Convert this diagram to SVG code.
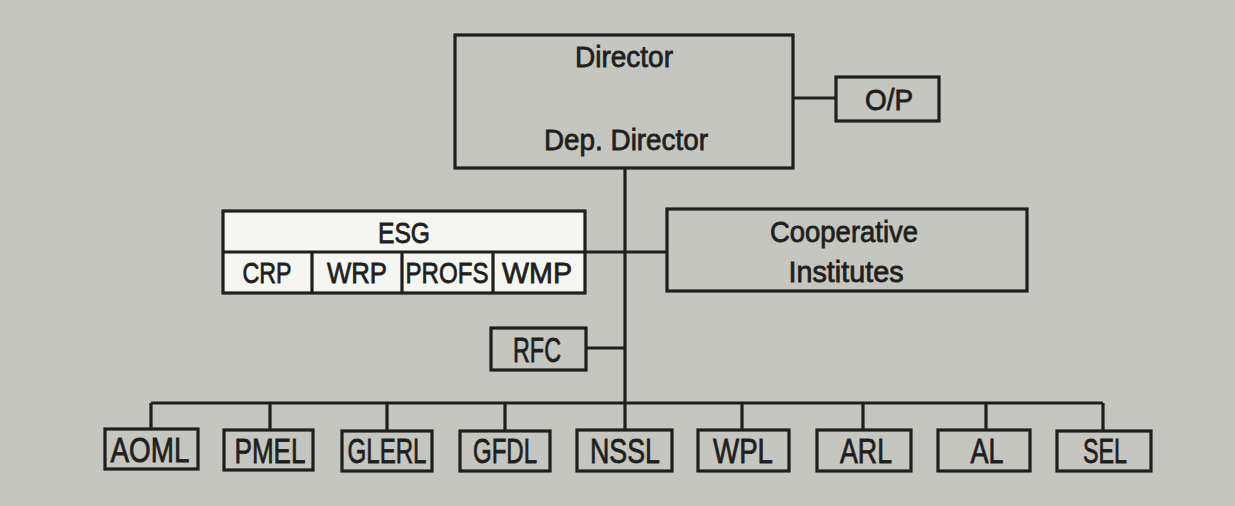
<svg xmlns="http://www.w3.org/2000/svg" width="1235" height="506" viewBox="0 0 1235 506">
<style>
.box{fill:none;stroke:#1f1f1f;stroke-width:3.2}
.wbox{fill:#f5f5f2;stroke:#1f1f1f;stroke-width:3.2}
.ln{fill:none;stroke:#1f1f1f;stroke-width:3.2}
text{font-family:"Liberation Sans",Arial,sans-serif;fill:#1f1f1f;stroke:#1f1f1f;stroke-width:0.8;text-anchor:middle}
.t1{font-size:30px}
.t2{font-size:35px}
</style>
<rect width="1235" height="506" fill="#c6c6c0"/>
<g id="connectors">
<path class="ln" d="M793 98H836"/>
<path class="ln" d="M625 168V430"/>
<path class="ln" d="M585 252H667"/>
<path class="ln" d="M586 348H625"/>
<path class="ln" d="M151 403H1103"/>
<path class="ln" d="M151 403V429M270 403V430M387 403V431M505 403V431M742 403V430M863 403V430M986 403V430M1103 403V431"/>
</g>
<g id="director">
<rect class="box" x="455" y="35" width="338" height="133"/>
<text class="t1" x="624" y="67" textLength="98" lengthAdjust="spacingAndGlyphs">Director</text>
<text class="t1" x="626" y="150" textLength="164" lengthAdjust="spacingAndGlyphs">Dep. Director</text>
</g>
<g id="op">
<rect class="box" x="836" y="77" width="103" height="44"/>
<text class="t1" x="889" y="110" textLength="48" lengthAdjust="spacingAndGlyphs">O/P</text>
</g>
<g id="esg">
<rect class="wbox" x="223" y="211" width="362" height="82"/>
<path class="ln" d="M223 252H585M312 252V293M402 252V293M493 252V293"/>
<text class="t1" x="404" y="243" textLength="52" lengthAdjust="spacingAndGlyphs">ESG</text>
<text class="t1" x="267" y="283" textLength="49" lengthAdjust="spacingAndGlyphs">CRP</text>
<text class="t1" x="357" y="283" textLength="60" lengthAdjust="spacingAndGlyphs">WRP</text>
<text class="t1" x="447" y="283" textLength="83" lengthAdjust="spacingAndGlyphs">PROFS</text>
<text class="t1" x="537" y="283" textLength="70" lengthAdjust="spacingAndGlyphs">WMP</text>
</g>
<g id="coop">
<rect class="box" x="667" y="209" width="360" height="82"/>
<text class="t1" x="844" y="242" textLength="148" lengthAdjust="spacingAndGlyphs">Cooperative</text>
<text class="t1" x="846" y="282" textLength="115" lengthAdjust="spacingAndGlyphs">Institutes</text>
</g>
<g id="rfc">
<rect class="box" x="491" y="328" width="95" height="42"/>
<text class="t2" x="537" y="362" textLength="48" lengthAdjust="spacingAndGlyphs">RFC</text>
</g>
<g id="aoml"><rect class="box" x="105" y="429" width="93" height="40"/><text class="t2" x="150" y="462" textLength="79" lengthAdjust="spacingAndGlyphs">AOML</text></g>
<g id="pmel"><rect class="box" x="224" y="430" width="89" height="40"/><text class="t2" x="270" y="463" textLength="71" lengthAdjust="spacingAndGlyphs">PMEL</text></g>
<g id="glerl"><rect class="box" x="342" y="431" width="90" height="40"/><text class="t2" x="387" y="463" textLength="79" lengthAdjust="spacingAndGlyphs">GLERL</text></g>
<g id="gfdl"><rect class="box" x="460" y="431" width="90" height="40"/><text class="t2" x="505" y="463" textLength="64" lengthAdjust="spacingAndGlyphs">GFDL</text></g>
<g id="nssl"><rect class="box" x="577" y="430" width="95" height="41"/><text class="t2" x="625" y="463" textLength="70" lengthAdjust="spacingAndGlyphs">NSSL</text></g>
<g id="wpl"><rect class="box" x="698" y="430" width="91" height="41"/><text class="t2" x="743" y="463" textLength="60" lengthAdjust="spacingAndGlyphs">WPL</text></g>
<g id="arl"><rect class="box" x="817" y="430" width="94" height="41"/><text class="t2" x="866" y="463" textLength="52" lengthAdjust="spacingAndGlyphs">ARL</text></g>
<g id="al"><rect class="box" x="938" y="430" width="92" height="41"/><text class="t2" x="987" y="463" textLength="33" lengthAdjust="spacingAndGlyphs">AL</text></g>
<g id="sel"><rect class="box" x="1057" y="431" width="94" height="40"/><text class="t2" x="1105" y="463" textLength="44" lengthAdjust="spacingAndGlyphs">SEL</text></g>
</svg>
